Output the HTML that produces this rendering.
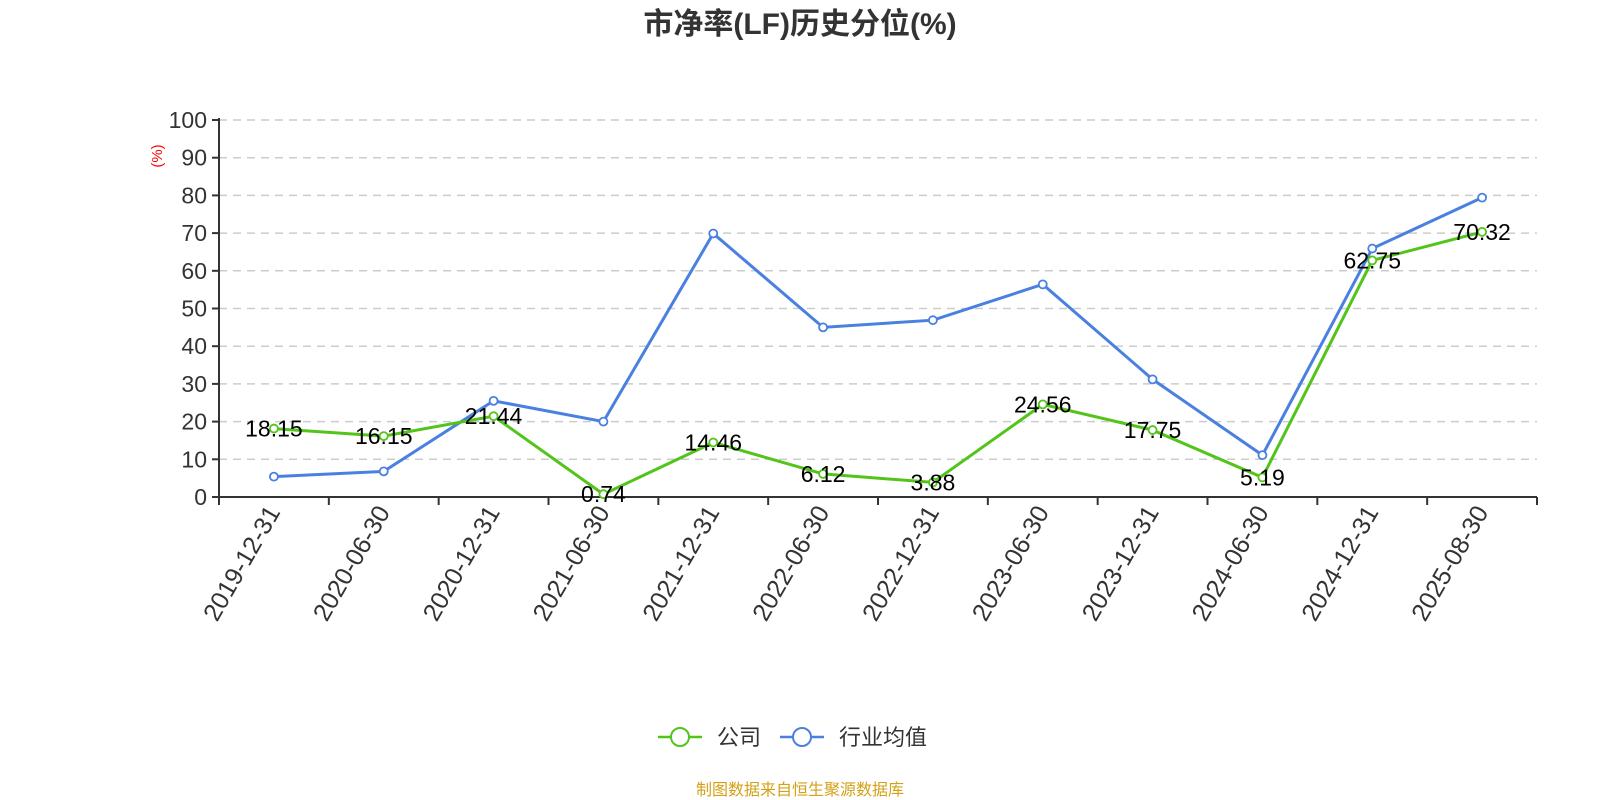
<!DOCTYPE html>
<html><head><meta charset="utf-8"><style>
body{margin:0;background:#fff;}
svg{display:block;font-family:"Liberation Sans","Noto Sans CJK SC",sans-serif;}
</style></head><body>
<svg width="1600" height="800" viewBox="0 0 1600 800" xmlns="http://www.w3.org/2000/svg">
<text x="800" y="34" text-anchor="middle" font-size="30" font-weight="bold" fill="#333">市净率(LF)历史分位(%)</text>
<g id="grid" stroke="#ccc" stroke-dasharray="8,6" stroke-width="1.5"></g>
<g id="ax"></g>
<text transform="translate(162,156) rotate(-90)" text-anchor="middle" font-size="15" fill="red">(%)</text>
<g id="ser"></g>
<g transform="translate(0,737)">
<line x1="658" y1="0" x2="702" y2="0" stroke="#52c41a" stroke-width="2.5"/>
<circle cx="680" cy="0" r="9" fill="#fff" stroke="#52c41a" stroke-width="2"/>
<text x="717" y="8" font-size="22" fill="#333">公司</text>
<line x1="780" y1="0" x2="824" y2="0" stroke="#4a80e0" stroke-width="2.5"/>
<circle cx="802" cy="0" r="9" fill="#fff" stroke="#4a80e0" stroke-width="2"/>
<text x="839" y="8" font-size="22" fill="#333">行业均值</text>
</g>
<text x="800" y="795" text-anchor="middle" font-size="16" fill="#d4a017">制图数据来自恒生聚源数据库</text>
<script>
var L=219,R=1537,Y0=497,Y1=120,ns="http://www.w3.org/2000/svg";
function y(v){return Y0-(Y0-Y1)*v/100;}
var w=(R-L)/12;function x(i){return L+w*(i+0.5);}
function el(p,t,a,tx){var e=document.createElementNS(ns,t);for(var k in a)e.setAttribute(k,a[k]);if(tx!=null)e.textContent=tx;p.appendChild(e);return e;}
var g=document.getElementById('grid'),ax=document.getElementById('ax'),s=document.getElementById('ser');
for(var v=10;v<=100;v+=10)el(g,'line',{x1:L,x2:R,y1:y(v),y2:y(v)});
for(var v=0;v<=100;v+=10){el(ax,'line',{x1:L-7,x2:L,y1:y(v),y2:y(v),stroke:'#333','stroke-width':2});el(ax,'text',{x:L-12,y:y(v)+8,'text-anchor':'end','font-size':23,fill:'#333'},v);}
el(ax,'line',{x1:L,x2:L,y1:Y1-2,y2:Y0,stroke:'#333','stroke-width':2});
el(ax,'line',{x1:L,x2:R,y1:Y0,y2:Y0,stroke:'#333','stroke-width':2});
var d=['2019-12-31','2020-06-30','2020-12-31','2021-06-30','2021-12-31','2022-06-30','2022-12-31','2023-06-30','2023-12-31','2024-06-30','2024-12-31','2025-08-30'];
for(var i=0;i<=12;i++)el(ax,'line',{x1:L+w*i,x2:L+w*i,y1:Y0,y2:Y0+8,stroke:'#333','stroke-width':2});
d.forEach(function(t,i){el(ax,'text',{transform:'translate('+(x(i)+7)+','+(Y0+15)+') rotate(-60)','text-anchor':'end','font-size':25,fill:'#333'},t);});
var gr=[18.15,16.15,21.44,0.74,14.46,6.12,3.88,24.56,17.75,5.19,62.75,70.32];
var bl=[5.4,6.8,25.5,20,69.9,45,46.9,56.4,31.2,11.1,65.9,79.4];
function line(a,c){el(s,'polyline',{points:a.map(function(v,i){return x(i)+','+y(v)}).join(' '),fill:'none',stroke:c,'stroke-width':3});a.forEach(function(v,i){el(s,'circle',{cx:x(i),cy:y(v),r:4,fill:'#fff',stroke:c,'stroke-width':1.8});});}
line(bl,'#4a80e0');line(gr,'#52c41a');
gr.forEach(function(v,i){el(s,'text',{x:x(i),y:y(v)+8,'text-anchor':'middle','font-size':23,fill:'#000'},v.toFixed(2));});
</script>
</svg>
</body></html>
